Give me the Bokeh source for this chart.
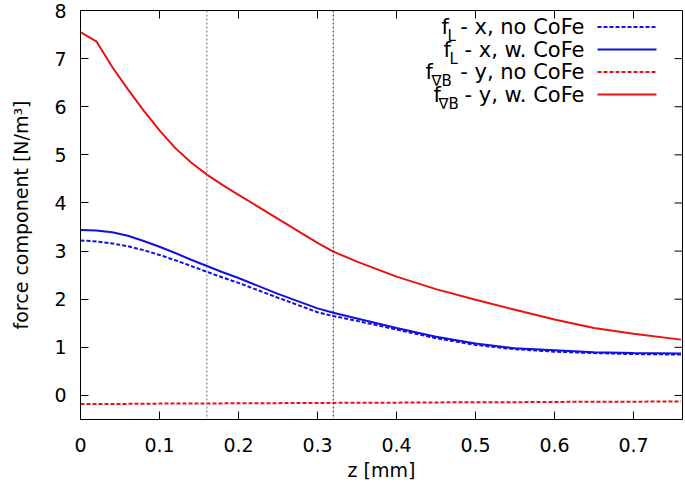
from bokeh.plotting import figure
from bokeh.models import Range1d, Span, Label, FixedTicker, PrintfTickFormatter
from bokeh.embed import file_html
from bokeh.resources import INLINE

# ---------------- data ----------------
z = [0.0, 0.02, 0.04, 0.06, 0.08, 0.10, 0.12, 0.14, 0.16, 0.18, 0.20,
     0.25, 0.30, 0.32, 0.35, 0.40, 0.45, 0.50, 0.55, 0.60, 0.65, 0.70, 0.76]

fL_x_noCoFe = [3.22, 3.20, 3.16, 3.10, 3.02, 2.92, 2.81, 2.69, 2.57, 2.45, 2.34,
               2.03, 1.73, 1.65, 1.55, 1.37, 1.19, 1.05, 0.96, 0.91, 0.88, 0.86, 0.85]
fL_x_CoFe = [3.44, 3.43, 3.39, 3.32, 3.21, 3.09, 2.96, 2.82, 2.69, 2.56, 2.44,
             2.11, 1.81, 1.72, 1.60, 1.40, 1.22, 1.08, 0.98, 0.94, 0.90, 0.88, 0.87]
fgB_y_noCoFe = [-0.18, -0.18, -0.18, -0.175, -0.175, -0.17, -0.17, -0.17, -0.165, -0.165, -0.16,
                -0.16, -0.155, -0.155, -0.15, -0.15, -0.145, -0.14, -0.14, -0.135, -0.13, -0.13, -0.125]
fgB_y_CoFe = [7.55, 7.36, 6.83, 6.36, 5.92, 5.51, 5.14, 4.84, 4.59, 4.37, 4.17,
              3.67, 3.17, 2.99, 2.78, 2.47, 2.21, 1.99, 1.78, 1.58, 1.40, 1.28, 1.16]

x_ticks = [0, 0.1, 0.2, 0.3, 0.4, 0.5, 0.6, 0.7]
y_ticks = [0, 1, 2, 3, 4, 5, 6, 7, 8]
marker_z = [0.16, 0.32]
marker_colors = ["#777777", "#222222"]

legend_main = ["- x, no CoFe", "- x, w. CoFe", "- y, no CoFe", "- y, w. CoFe"]
legend_sub = ["L", "L", "\u2207B", "\u2207B"]

X0, X1 = 0.0, 0.762
Y0, Y1 = -0.5, 8.0

BLUE = "#1010e0"
RED = "#e81212"
FONT = "DejaVu Sans"
FS = "19px"

# ---------------- figure ----------------
p = figure(width=685, height=488, x_range=Range1d(X0, X1), y_range=Range1d(Y0, Y1),
           output_backend="svg", toolbar_location=None,
           min_border_left=80, min_border_right=3, min_border_top=10, min_border_bottom=69)
p.grid.visible = False
p.outline_line_color = "black"
p.outline_line_width = 1
p.background_fill_color = "white"
p.border_fill_color = "white"

p.xaxis.ticker = FixedTicker(ticks=x_ticks)
p.xaxis.formatter = PrintfTickFormatter(format="%g")
p.yaxis.ticker = FixedTicker(ticks=y_ticks)
p.xaxis.axis_label = "z [mm]"
p.yaxis.axis_label = "force component [N/m\u00b3]"

for ax in [p.xaxis[0], p.yaxis[0]]:
    ax.axis_line_color = "black"
    ax.major_tick_in = 8
    ax.major_tick_out = 0
    ax.minor_tick_in = 0
    ax.minor_tick_out = 0
    ax.major_label_text_font = FONT
    ax.major_label_text_font_size = FS
    ax.major_label_text_color = "black"
    ax.axis_label_text_font = FONT
    ax.axis_label_text_font_size = FS
    ax.axis_label_text_font_style = "normal"
    ax.axis_label_text_color = "black"
p.xaxis.major_label_standoff = 18
p.xaxis.axis_label_standoff = 4
p.yaxis.major_label_standoff = 14
p.yaxis.axis_label_standoff = 19

FRAME_LEFT, FRAME_TOP, FRAME_W, FRAME_H = 80, 10, 602, 409
TICK = 8
dx_px = (X1 - X0) / FRAME_W
dy_px = (Y1 - Y0) / FRAME_H

# mirrored ticks on the top and right border (gnuplot style)
p.segment(x0=x_ticks, y0=[Y1] * len(x_ticks), x1=x_ticks, y1=[Y1 - TICK * dy_px] * len(x_ticks),
          line_color="black", line_width=1)
p.segment(x0=[X1] * len(y_ticks), y0=y_ticks, x1=[X1 - TICK * dx_px] * len(y_ticks), y1=y_ticks,
          line_color="black", line_width=1)

# marker lines
for mz, mc in zip(marker_z, marker_colors):
    p.add_layout(Span(location=mz, dimension="height", line_color=mc,
                      line_width=1, line_dash="2 2"))

# series
p.line(z, fL_x_noCoFe, line_color=BLUE, line_width=2, line_dash="4 2")
p.line(z, fL_x_CoFe, line_color=BLUE, line_width=2)
p.line(z, fgB_y_noCoFe, line_color=RED, line_width=2, line_dash="4 2")
p.line(z, fgB_y_CoFe, line_color=RED, line_width=2)


# ---------------- legend (manual, gnuplot style) ----------------
def lx(page_x):
    return X0 + (page_x - FRAME_LEFT) * dx_px


def ly(page_y):
    return Y1 - (page_y - FRAME_TOP) * dy_px


row_y = [26.5, 49, 71.5, 94]
f_x = [441, 443, 425, 433]
sub_x = [447, 449, 431, 438]
text_right = 584
key_x0, key_x1 = 597, 656
styles = [(BLUE, "4 2"), (BLUE, "solid"), (RED, "4 2"), (RED, "solid")]

for i in range(4):
    yy = ly(row_y[i])
    p.add_layout(Label(x=lx(f_x[i]), y=yy, text="f", text_font=FONT, text_font_size="21px",
                       text_align="left", text_baseline="middle", text_color="black"))
    p.add_layout(Label(x=lx(sub_x[i]), y=ly(row_y[i] + 9), text=legend_sub[i], text_font=FONT,
                       text_font_size="15px", text_align="left", text_baseline="middle",
                       text_color="black"))
    p.add_layout(Label(x=lx(text_right), y=yy, text=legend_main[i], text_font=FONT,
                       text_font_size="21px", text_align="right", text_baseline="middle",
                       text_color="black"))
    col, dash = styles[i]
    p.line([lx(key_x0), lx(key_x1)], [yy, yy], line_color=col, line_width=2, line_dash=dash)

open("out.html", "w").write(file_html(p, INLINE))
